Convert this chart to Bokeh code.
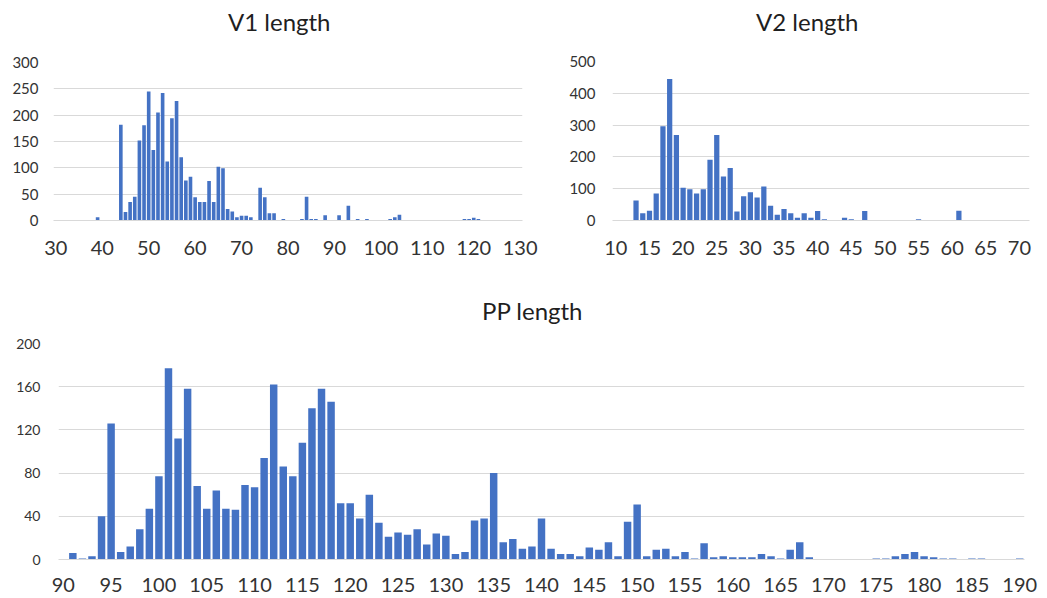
from bokeh.plotting import figure
from bokeh.layouts import column, row
from bokeh.models import FixedTicker, Range1d, Div
from bokeh.embed import file_html
from bokeh.resources import INLINE

# ---------------- data ----------------
v1_length = list(range(30, 131))
v1_count = [0, 0, 0, 0, 0, 1, 0, 0, 0, 6,
            1, 1, 1, 1, 182, 16, 35, 45, 152, 181,
            245, 134, 205, 242, 112, 194, 227, 120, 76, 83,
            44, 35, 35, 75, 35, 102, 99, 22, 17, 6,
            9, 9, 6, 1, 62, 44, 14, 14, 1, 3,
            1, 1, 1, 3, 45, 3, 3, 1, 10, 1,
            1, 10, 1, 28, 1, 3, 1, 3, 0, 0,
            1, 1, 3, 6, 11, 1, 1, 1, 0, 0,
            0, 0, 0, 0, 0, 0, 1, 0, 3, 3,
            5, 3, 1, 1, 1, 0, 0, 0, 0, 0,
            0]

v2_length = list(range(10, 72))
v2_count = [0, 0, 1, 63, 23, 31, 85, 296, 445, 269,
            103, 98, 85, 98, 191, 269, 138, 165, 28, 76,
            89, 72, 107, 46, 18, 36, 23, 9, 23, 9,
            30, 4, 1, 1, 9, 4, 1, 30, 1, 1,
            1, 1, 1, 1, 1, 4, 1, 1, 1, 1,
            1, 31, 1, 1, 1, 1, 1, 1, 1, 1,
            1, 0]

pp_length = list(range(90, 191))
pp_count = [0, 6, 1, 3, 40, 126, 7, 12, 28, 47,
            77, 177, 112, 158, 68, 47, 64, 47, 46, 69,
            67, 94, 162, 86, 77, 108, 140, 158, 146, 52,
            52, 38, 60, 34, 21, 25, 23, 28, 14, 24,
            22, 5, 7, 36, 38, 80, 16, 19, 10, 12,
            38, 10, 5, 5, 3, 11, 9, 16, 3, 35,
            51, 3, 9, 10, 3, 7, 1, 15, 2, 3,
            2, 2, 2, 5, 3, 1, 9, 16, 2, 0,
            0, 0, 0, 0, 0, 1, 1, 3, 5, 7,
            3, 2, 1, 1, 0, 1, 1, 0, 0, 0,
            1]

v1_xticks = list(range(30, 131, 10))
v1_yticks = [0, 50, 100, 150, 200, 250, 300]
v2_xticks = list(range(10, 71, 5))
v2_yticks = [0, 100, 200, 300, 400, 500]
pp_xticks = list(range(90, 191, 5))
pp_yticks = [0, 40, 80, 120, 160, 200]

BAR = "#4472C4"
GRID = "#d9d9d9"
TXT = "#333333"
FONT = "Lato"


def title_div(text, width, height, indent, line_h):
    return Div(text=text, width=width, height=height,
               styles={"font-family": FONT, "font-size": "24px",
                       "color": "#1f1f1f", "line-height": f"{line_h}px",
                       "text-indent": f"{indent}px", "white-space": "nowrap",
                       "margin": "0", "padding": "0"})


def hist(x, y, xticks, yticks, ymax, width, height, mb, xfs, yfs,
         xstand, ystand):
    p = figure(width=width, height=height, output_backend="svg",
               toolbar_location=None,
               x_range=Range1d(x[0] - 0.5, x[-1] + 0.5),
               y_range=Range1d(0, ymax),
               min_border_left=mb[0], min_border_right=mb[1],
               min_border_top=mb[2], min_border_bottom=mb[3])
    p.vbar(x=x, top=y, width=0.78, fill_color=BAR, line_color=None)
    p.outline_line_color = None
    p.background_fill_color = "white"
    p.border_fill_color = "white"
    p.xgrid.visible = False
    p.ygrid.ticker = FixedTicker(ticks=yticks)
    p.ygrid.grid_line_color = GRID
    p.ygrid.grid_line_width = 1
    p.xaxis.ticker = FixedTicker(ticks=xticks)
    p.yaxis.ticker = FixedTicker(ticks=yticks)
    for ax in (p.xaxis[0], p.yaxis[0]):
        ax.major_tick_line_color = None
        ax.minor_tick_line_color = None
        ax.major_tick_in = 0
        ax.major_tick_out = 0
        ax.minor_tick_in = 0
        ax.minor_tick_out = 0
        ax.major_label_text_font = FONT
        ax.major_label_text_color = TXT
    p.yaxis.axis_line_color = None
    p.xaxis.axis_line_color = GRID
    p.xaxis.major_label_text_font_size = xfs
    p.yaxis.major_label_text_font_size = yfs
    p.xaxis.major_label_standoff = xstand
    p.yaxis.major_label_standoff = ystand
    return p


p1 = hist(v1_length, v1_count, v1_xticks, v1_yticks, 300,
          560, 236, (53, 38, 18, 60), "20px", "15px", 20, 15)
p2 = hist(v2_length, v2_count, v2_xticks, v2_yticks, 500,
          487, 236, (52, 18, 17, 60), "20px", "15px", 20, 17)
p3 = hist(pp_length, pp_count, pp_xticks, pp_yticks, 200,
          1047, 268, (58, 23, 13, 39), "20px", "14px", 18, 18)

d1 = title_div("V1 length", 560, 44, 228, 44)
d2 = title_div("V2 length", 487, 44, 196, 44)
d3 = title_div("PP length", 1047, 50, 482, 62)

layout = column(row(column(d1, p1, spacing=0), column(d2, p2, spacing=0),
                    spacing=0),
                column(d3, p3, spacing=0), spacing=0)

open("out.html", "w").write(file_html(layout, INLINE))
